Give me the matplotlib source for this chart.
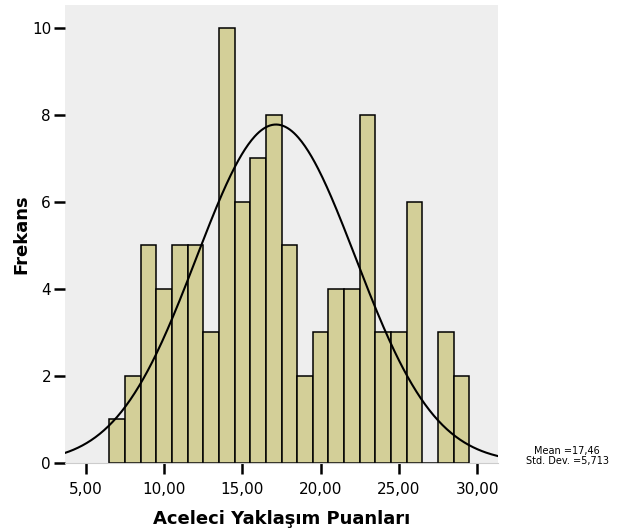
import matplotlib.pyplot as plt
import numpy as np

# histogram counts, one bin per integer score (bins 1 wide)
scores = [7, 8, 9, 10, 11, 12, 13, 14, 15, 16, 17, 18, 19, 20, 21, 22, 23, 24, 25, 26, 27, 28, 29]
counts = [1, 2, 5, 4, 5, 5, 3, 10, 6, 7, 8, 5, 2, 3, 4, 4, 8, 3, 3, 6, 0, 3, 2]
x_ticks = [5, 10, 15, 20, 25, 30]
x_labels = ["5,00", "10,00", "15,00", "20,00", "25,00", "30,00"]
y_ticks = [0, 2, 4, 6, 8, 10]

# normal curve as drawn in the picture
curve_center = 17.15
curve_sd = 5.08
n_total = sum(counts)
stats_text = "Mean =17,46\nStd. Dev. =5,713"

fig = plt.figure(figsize=(6.2, 5.31), dpi=100)
ax = fig.add_axes([65 / 620, 1 - 463 / 531, (498 - 65) / 620, (463 - 5) / 531])
ax.set_facecolor("#eeeeee")

ax.bar(scores, counts, width=1.0, color="#d3cf98", edgecolor="black", linewidth=1.1, zorder=2)

xs = np.linspace(3.6, 31.4, 400)
ys = n_total / (curve_sd * np.sqrt(2 * np.pi)) * np.exp(-0.5 * ((xs - curve_center) / curve_sd) ** 2)
ax.plot(xs, ys, color="black", linewidth=1.5, zorder=3)

ax.set_xlim(3.68, 31.32)
ax.set_ylim(0, 10.52)
ax.set_xticks(x_ticks)
ax.set_xticklabels(x_labels)
ax.set_yticks(y_ticks)
ax.tick_params(axis="both", length=8, width=1.8, labelsize=11, colors="black")
ax.tick_params(axis="x", pad=6)
ax.tick_params(axis="y", pad=2)
for s in ["top", "right", "left"]:
    ax.spines[s].set_visible(False)
ax.spines["bottom"].set_color("#cccccc")

ax.set_xlabel("Aceleci Yaklaşım Puanları", fontsize=13, fontweight="bold", labelpad=9)
ax.set_ylabel("Frekans", fontsize=13, fontweight="bold", labelpad=1)

fig.text(0.915, 0.142, stats_text, ha="center", va="center", fontsize=7, linespacing=1.0)

fig.savefig("out.png", dpi=100)
